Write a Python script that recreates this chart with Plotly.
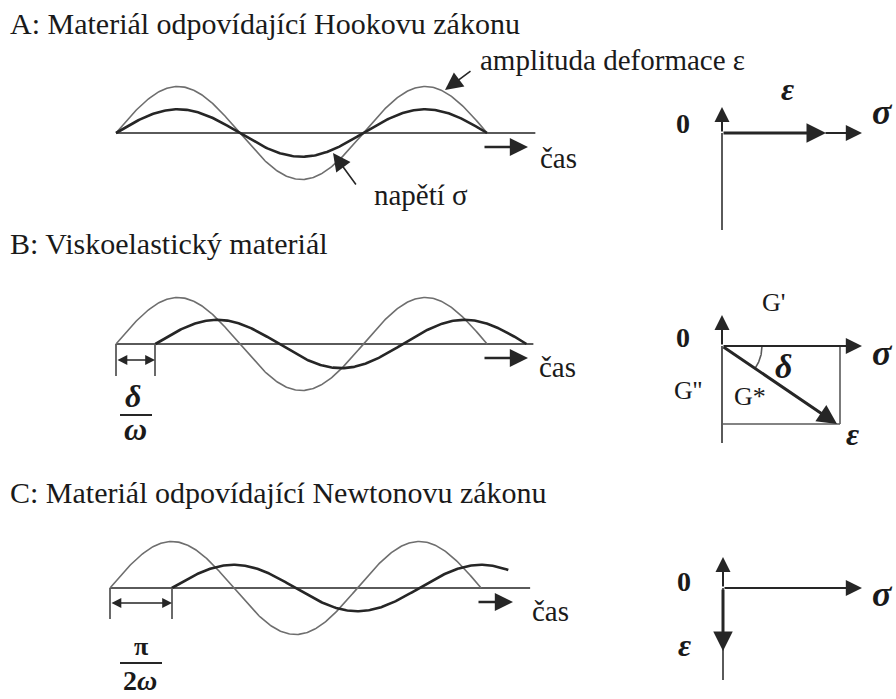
import numpy as np
import plotly.graph_objects as go

W, H = 896, 699

# ---------------- data ----------------
panel_titles = ["A: Materiál odpovídající Hookovu zákonu",
                "B: Viskoelastický materiál",
                "C: Materiál odpovídající Newtonovu zákonu"]
strain_amplitude = [1.0, 1.0, 1.0]          # thin curve (deformace ε)
stress_amplitude = [0.51, 0.52, 0.50]       # thick curve (napětí σ)
phase_lag = [0.0, 1.0, np.pi / 2]           # rad, lag of thick curve
strain_span = [3 * np.pi, 3 * np.pi, 3 * np.pi]
stress_span = [3 * np.pi, 3 * np.pi, 2.72 * np.pi]
time_axis_end = [10.65, 10.6, 10.67]        # rad
time_label = "čas"

# ---------------- layout constants ----------------
FONT = "Liberation Serif, Times New Roman, serif"
THIN = "#6e6e6e"
THICK = "#262626"
AXC = "#5a5a5a"
TXT = "#1a1a1a"
origin_x = [116, 116, 110]
base_y = [133, 344, 588]
ppr = 123.7 / np.pi       # pixels per radian
ppu = 46.5                # pixels per amplitude unit
XMIN, XMAX = -0.4, 11.2
YR = 1.6

fig = go.Figure()

# pixel axis for decorations
fig.update_layout(
    xaxis=dict(range=[0, W], domain=[0, 1], visible=False, fixedrange=True),
    yaxis=dict(range=[H, 0], domain=[0, 1], visible=False, fixedrange=True),
)

for i in range(3):
    k = i + 2
    xa, ya = f"x{k}", f"y{k}"
    x0 = (origin_x[i] + XMIN * ppr) / W
    x1 = (origin_x[i] + XMAX * ppr) / W
    yb = 1 - (base_y[i] + YR * ppu) / H
    yt = 1 - (base_y[i] - YR * ppu) / H
    fig.layout[f"xaxis{k}"] = dict(range=[XMIN, XMAX], domain=[x0, x1], visible=False,
                                   anchor=ya, fixedrange=True)
    fig.layout[f"yaxis{k}"] = dict(range=[-YR, YR], domain=[yb, yt], visible=False,
                                   anchor=xa, fixedrange=True)
    # time axis (baseline)
    fig.add_trace(go.Scatter(x=[0, time_axis_end[i]], y=[0, 0], mode="lines",
                             line=dict(color=AXC, width=2), xaxis=xa, yaxis=ya,
                             hoverinfo="skip", showlegend=False))
    # thin: strain
    t = np.linspace(0, strain_span[i], 300)
    fig.add_trace(go.Scatter(x=t, y=strain_amplitude[i] * np.sin(t), mode="lines",
                             line=dict(color=THIN, width=1.6), xaxis=xa, yaxis=ya,
                             hoverinfo="skip", showlegend=False))
    # thick: stress
    t2 = np.linspace(0, stress_span[i], 300)
    fig.add_trace(go.Scatter(x=t2 + phase_lag[i], y=stress_amplitude[i] * np.sin(t2),
                             mode="lines", line=dict(color=THICK, width=2.6),
                             xaxis=xa, yaxis=ya, hoverinfo="skip", showlegend=False))

ann = []


def text(s, x, y, size=28, anchor="center", bold=False, italic=False, color=TXT):
    if italic:
        s = f"<i>{s}</i>"
    if bold:
        s = f"<b>{s}</b>"
    ann.append(dict(text=s, x=x, y=y, xref="x", yref="y", showarrow=False,
                    xanchor=anchor, yanchor="middle",
                    font=dict(family=FONT, size=size, color=color)))


def arrow(x0, y0, x1, y1, width=2.0, size=1.5, color=THICK, both=False, head=2):
    ann.append(dict(text="", x=x1, y=y1, ax=x0, ay=y0, xref="x", yref="y",
                    axref="x", ayref="y", showarrow=True, arrowhead=head,
                    startarrowhead=head, arrowsize=size, startarrowsize=size,
                    arrowwidth=width, arrowcolor=color, standoff=0, startstandoff=0,
                    arrowside="end+start" if both else "end"))


shapes = []


def line(x0, y0, x1, y1, width=2.0, color=AXC):
    shapes.append(dict(type="line", x0=x0, y0=y0, x1=x1, y1=y1, xref="x", yref="y",
                       line=dict(color=color, width=width)))


# titles
text(panel_titles[0], 8, 23, size=30, anchor="left")
text(panel_titles[1], 8, 243, size=30, anchor="left")
text(panel_titles[2], 8, 492, size=30, anchor="left")

# panel A labels
text("amplituda deformace ε", 478, 60, size=29, anchor="left")
arrow(472, 70, 445, 90, width=1.6, size=2.2)
text("napětí σ", 372, 195, size=29, anchor="left")
arrow(357, 186, 333, 153, width=1.6, size=2.2)

# time arrows
for (ax0, ax1, ay, tx, ty) in [(483, 528, 147, 538, 158), (483, 528, 358, 537, 367),
                                (477, 513, 602, 530, 611)]:
    arrow(ax0, ay, ax1, ay, width=2.6, size=1.4)
    text(time_label, tx, ty, size=29, anchor="left")

# bracket B
line(116, 344, 116, 376, width=1.8)
line(155, 344, 155, 376, width=1.8)
arrow(116, 360, 155, 360, width=1.4, size=1.4, both=True)
text("δ", 133, 396, size=32, italic=True, bold=True)
line(120, 415, 152, 415, width=2, color=THICK)
text("ω", 135, 429, size=32, italic=True, bold=True)

# bracket C
line(110, 588, 110, 619, width=1.8)
line(172, 588, 172, 619, width=1.8)
arrow(110, 603, 172, 603, width=1.4, size=1.4, both=True)
text("π", 141, 646, size=26, bold=True)
line(120, 663, 162, 663, width=2, color=THICK)
text("2<i>ω</i>", 140, 680, size=28, bold=True)

# phasor A
line(722, 133, 722, 230, width=2)
arrow(722, 133, 722, 107, width=2, size=1.5, color=THICK)
arrow(722, 133, 826, 133, width=3, size=1.3)
arrow(824, 133, 862, 133, width=1.8, size=1.8)
text("0", 683, 123, size=28, bold=True)
text("ε", 787, 89, size=32, italic=True, bold=True)
text("σ", 882, 112, size=36, italic=True, bold=True)

# phasor B
line(722, 346, 722, 443, width=2)
arrow(722, 346, 722, 315, width=2, size=1.5, color=THICK)
arrow(722, 346, 862, 346, width=1.8, size=1.8)
line(840, 346, 840, 424, width=1.6)
line(722, 424, 840, 424, width=1.6)
arrow(722, 346, 837, 424, width=3, size=1.3)
text("0", 683, 337, size=28, bold=True)
text("G'", 773, 302, size=26)
text("G''", 688, 390, size=26)
text("G*", 750, 396, size=26)
text("δ", 783, 366, size=34, italic=True, bold=True)
text("σ", 882, 353, size=36, italic=True, bold=True)
text("ε", 852, 434, size=32, italic=True, bold=True)

# arc for delta
th = np.linspace(0, np.arctan2(424 - 346, 837 - 722), 30)
fig.add_trace(go.Scatter(x=722 + 40 * np.cos(th), y=346 + 40 * np.sin(th), mode="lines",
                         line=dict(color=AXC, width=1.6), xaxis="x", yaxis="y",
                         hoverinfo="skip", showlegend=False))

# phasor C
line(723, 588, 723, 680, width=2)
arrow(723, 588, 723, 557, width=2, size=1.5, color=THICK)
arrow(723, 588, 862, 588, width=1.8, size=1.8)
arrow(723, 588, 723, 651, width=3, size=1.3)
text("0", 684, 581, size=28, bold=True)
text("ε", 684, 645, size=32, italic=True, bold=True)
text("σ", 882, 594, size=36, italic=True, bold=True)

fig.update_layout(width=W, height=H, margin=dict(l=0, r=0, t=0, b=0),
                  paper_bgcolor="white", plot_bgcolor="rgba(0,0,0,0)",
                  annotations=ann, shapes=shapes, showlegend=False)

fig.write_html("out.html",
               config={"displayModeBar": False, "staticPlot": True},
               post_script="document.body.style.margin='0';"
                           "document.body.style.padding='0';"
                           "document.body.style.overflow='hidden';")
